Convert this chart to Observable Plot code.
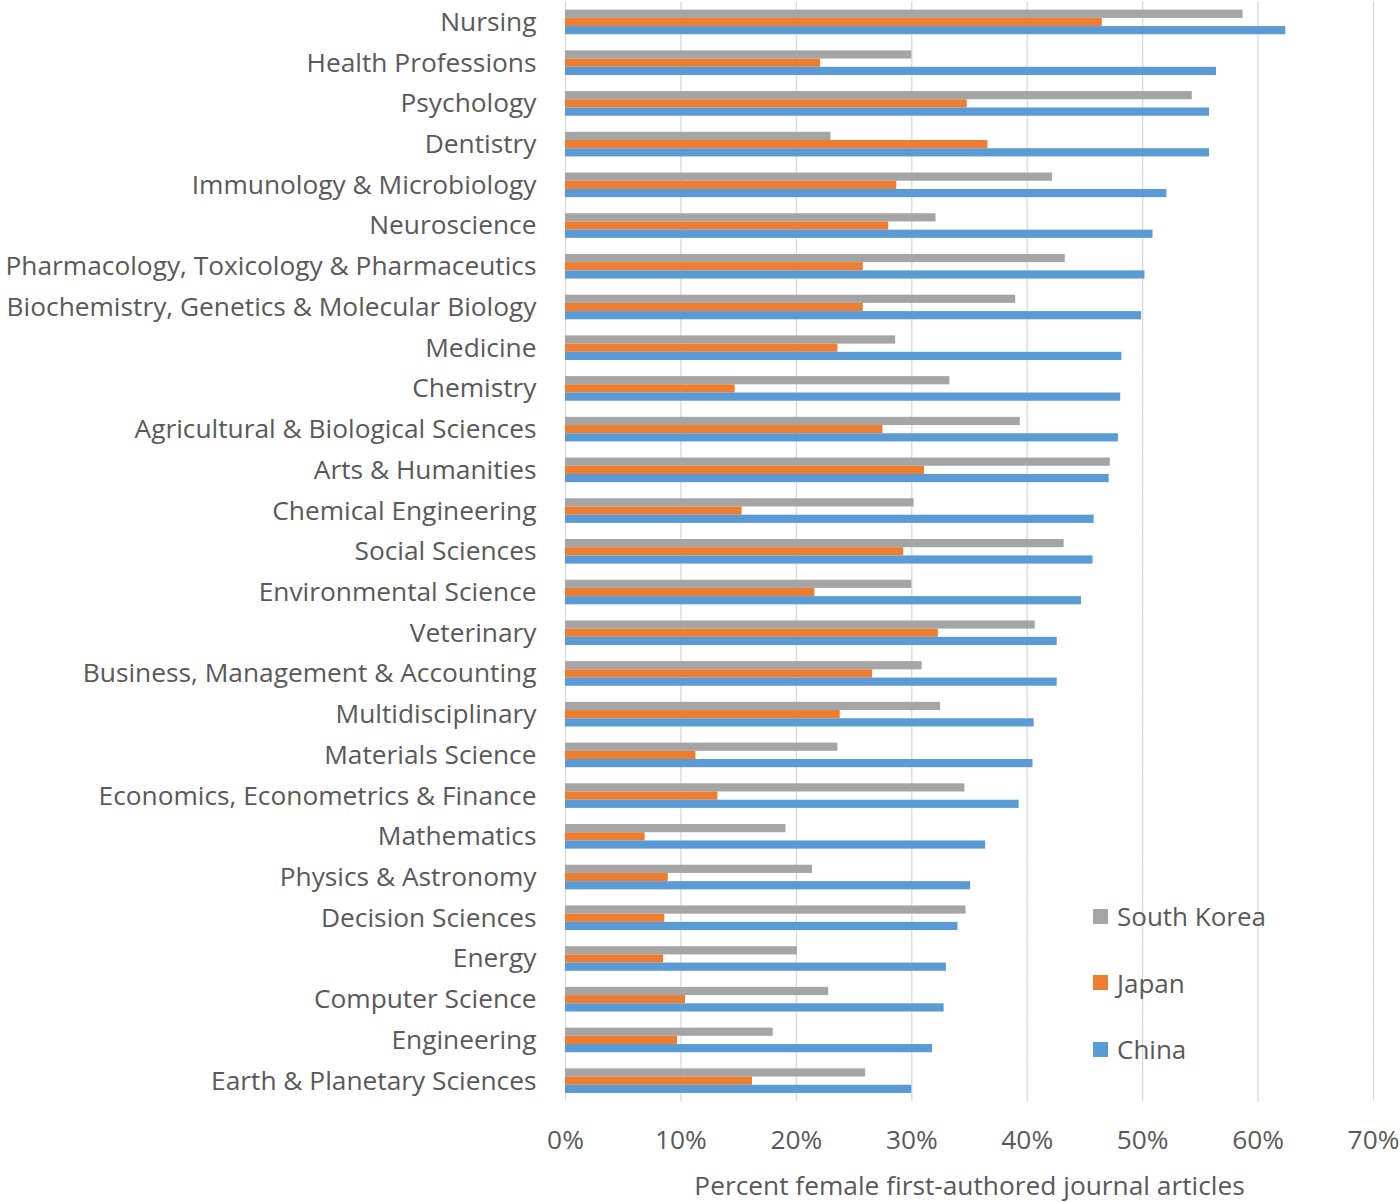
<!DOCTYPE html>
<html>
<head>
<meta charset="utf-8">
<script src="https://cdn.jsdelivr.net/npm/d3@7"></script>
<script src="https://cdn.jsdelivr.net/npm/@observablehq/plot@0.6"></script>
<style>
  html, body { margin: 0; padding: 0; background: #fff; }
  #wrap { position: relative; width: 1400px; height: 1202px; font-family: "Open Sans", sans-serif; color: #595959; }
  #legend { position: absolute; left: 1093px; top: 896px; font-size: 26px; }
  #legend .item { display: flex; align-items: center; height: 40px; margin-bottom: 26.5px; }
  #legend .sw { width: 15px; height: 15px; margin-right: 9px; }
</style>
</head>
<body>
<div id="wrap"></div>
<script>
const categories = [
  "Nursing", "Health Professions", "Psychology", "Dentistry", "Immunology & Microbiology",
  "Neuroscience", "Pharmacology, Toxicology & Pharmaceutics", "Biochemistry, Genetics & Molecular Biology",
  "Medicine", "Chemistry", "Agricultural & Biological Sciences", "Arts & Humanities",
  "Chemical Engineering", "Social Sciences", "Environmental Science", "Veterinary",
  "Business, Management & Accounting", "Multidisciplinary", "Materials Science",
  "Economics, Econometrics & Finance", "Mathematics", "Physics & Astronomy", "Decision Sciences",
  "Energy", "Computer Science", "Engineering", "Earth & Planetary Sciences"
];
const series = ["South Korea", "Japan", "China"];
const seriesColors = ["#A5A5A5", "#ED7D31", "#5B9BD5"];
const southKorea = [58.7, 30.0, 54.3, 23.0, 42.2, 32.1, 43.3, 39.0, 28.6, 33.3, 39.4, 47.2, 30.2, 43.2, 30.0, 40.7, 30.9, 32.5, 23.6, 34.6, 19.1, 21.4, 34.7, 20.1, 22.8, 18.0, 26.0];
const japan      = [46.5, 22.1, 34.8, 36.6, 28.7, 28.0, 25.8, 25.8, 23.6, 14.7, 27.5, 31.1, 15.3, 29.3, 21.6, 32.3, 26.6, 23.8, 11.3, 13.2, 6.9, 8.9, 8.6, 8.5, 10.4, 9.7, 16.2];
const china      = [62.4, 56.4, 55.8, 55.8, 52.1, 50.9, 50.2, 49.9, 48.2, 48.1, 47.9, 47.1, 45.8, 45.7, 44.7, 42.6, 42.6, 40.6, 40.5, 39.3, 36.4, 35.1, 34.0, 33.0, 32.8, 31.8, 30.0];
const xTicks = [0, 0.1, 0.2, 0.3, 0.4, 0.5, 0.6, 0.7];
const xTitle = "Percent female first-authored journal articles";

const valuesBySeries = [southKorea, japan, china];
const data = [];
categories.forEach((c, i) => {
  series.forEach((s, j) => data.push({category: c, series: s, value: valuesBySeries[j][i] / 100}));
});

const chart = Plot.plot({
  width: 1400,
  height: 1202,
  marginLeft: 565,
  marginRight: 27,
  marginTop: 1.6,
  marginBottom: 101,
  style: {fontFamily: "'Open Sans', sans-serif", fontSize: "26.3px", color: "#595959", background: "#fff"},
  x: {domain: [0, 0.7], ticks: xTicks, tickFormat: d3.format(".0%"), tickSize: 0, tickPadding: 29,
      label: xTitle, labelAnchor: "center", labelOffset: 93, labelArrow: "none"},
  fy: {domain: categories, padding: 0, round: false, axis: "left", label: null, tickSize: 0, tickPadding: 29},
  y: {domain: series, paddingInner: 0, paddingOuter: 0.98, round: false, axis: null},
  color: {domain: series, range: seriesColors},
  marks: [
    Plot.ruleX(xTicks, {stroke: "#D9D9D9", strokeWidth: 1.3}),
    Plot.barX(data, {x: "value", y: "series", fy: "category", fill: "series"})
  ]
});
// strip any automatic direction arrow from the axis title
chart.querySelectorAll("text").forEach(t => {
  if (t.textContent.includes(xTitle) && /[→←]/.test(t.textContent)) {
    t.textContent = xTitle;
  }
});
const wrap = document.getElementById("wrap");
wrap.appendChild(chart);

const legend = document.createElement("div");
legend.id = "legend";
series.forEach((s, j) => {
  const item = document.createElement("div");
  item.className = "item";
  const sw = document.createElement("span");
  sw.className = "sw";
  sw.style.background = seriesColors[j];
  const lab = document.createElement("span");
  lab.textContent = s;
  item.appendChild(sw);
  item.appendChild(lab);
  legend.appendChild(item);
});
wrap.appendChild(legend);
</script>
</body>
</html>
